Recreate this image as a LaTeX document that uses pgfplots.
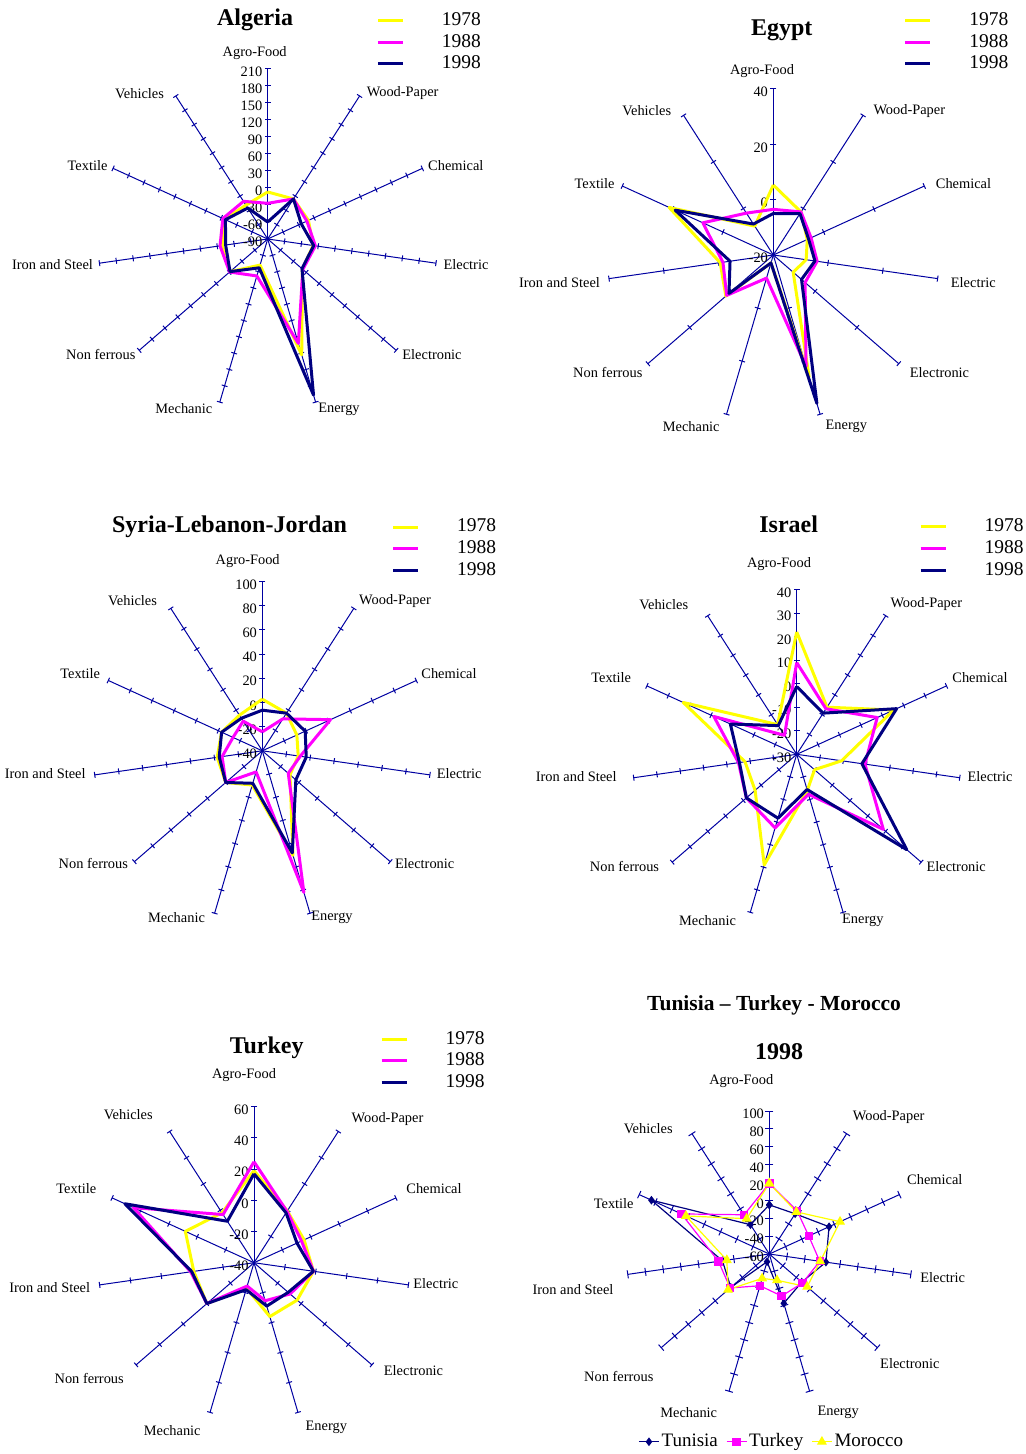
\documentclass[border=0pt]{standalone}
\usepackage{pgfplots}
\pgfplotsset{compat=1.18}
\usepackage{pgfplotstable}
\usepackage{fontspec}
\setmainfont{Liberation Serif}

\definecolor{c78}{rgb}{1,1,0}
\definecolor{c88}{rgb}{1,0,1}
\definecolor{c98}{rgb}{0,0,0.5}
\definecolor{spokeblue}{rgb}{0,0,0.63}

\newcommand\lblfont{\fontsize{7.2}{8.6}\selectfont}
\newcommand\ttlfont{\fontsize{12}{14}\selectfont\bfseries}

% k = spoke index (0 Agro-Food ... 10 Vehicles); row 11 closes the polygon
\pgfplotstableread{
k  a    b    c
0  -7   -27  -60
1  -6   -6   -6
2  -11  -14  -25
3  -9   -5   -8
4  -9   -8   -10
5  123  102  197
6  -42  -22  -37
7  -2   -1   -2
8  -9   -5   -15
9  -6   -3   -8
10 -19  -11  -25
11 -7   -27  -60
}\algeria

\pgfplotstableread{
k  a     b     c
0  5.3   -3.5  -5
1  -1.5  -1.5  -2.2
2  -6.5  -5    -6
3  -8    -4    -4.8
4  -10.5 -4.8  -6.5
5  25.9  22    35.9
6  -17   -11.3 -17
7  2.7   2.3   1.2
8  -0.6  -1.6  -4.2
9  21.4  8     19
10 -7.6  -2    -6.7
11 5.3   -3.5  -5
}\egypt

\pgfplotstableread{
k  a     b     c
0  2.7   -24.3 -6.4
1  -3    -8.6  -3
2  -8.6  22    -1
3  -10   -8.3  -3.3
4  -9.7  -11.6 -3.3
5  50    82    48
6  -10.5 -21.8 -12
7  0     0     0
8  -2.3  -6.4  -4
9  -3    -13.4 -3
10 -5    -10.8 -8
11 2.7   -24.3 -6.4
}\syria

\pgfplotstableread{
k  a     b     c
0  22    9     -1.2
1  -6.2  -7    -9.2
2  15.3  7.6   16.7
3  -10.7 -0.7  -2
4  -20   18.7  31.9
5  -14   -12.3 -14.4
6  19    2.6   -1.7
7  -6.6  -1.7  -1.7
8  -7.8  -5    -5.4
9  23    8.7   1
10 -15   -20.4 -15.5
11 22    9     -1.2
}\israel

\pgfplotstableread{
k  a     b     c
0  19    24.7  17
1  -0.5  -0.9  -2
2  -4.7  -6.5  -9.7
3  -1.5  -1.5  -1.5
4  -3.4  -9.4  -11
5  -4    -14.6 -11
6  -23   -24.4 -22
7  0     0     0
8  -1    1     0.3
9  8.4   45    51
10 -2    -3.3  -8.4
11 19    24.7  17
}\turkey

% a = Tunisia, b = Turkey, c = Morocco (1998)
\pgfplotstableread{
k  a     b     c
0  -5    19    19
1  -6.5  -2.5  -4
2  13.5  -11.5 27
3  4     -3    -2.5
4  -12   -10.7 -4
5  -2.5  -11   -29.4
6  -51   -23   -31.6
7  -3    -2    1
8  -7    -2.5  -12
9  85    48    42.6
10 -21   -7.8  -13
11 -5    19    19
}\ttm

\pgfplotsset{
  radar/.style={hide axis, clip=false, anchor=center,
    xmin=-1.6, xmax=1.6, ymin=-1.6, ymax=1.6, x=#1, y=#1,
    legend cell align=left,
    legend style={draw=none, fill=none, inner sep=0pt, outer sep=0pt,
      anchor=north west, font=\fontsize{9.75}{11}\selectfont, row sep=2.8pt,
      nodes={inner sep=0pt, outer sep=0pt}},
    legend image code/.code={\draw[##1] (0pt,0pt) -- (12.5pt,0pt);
      \path[draw=none] (0pt,0pt) -- (32pt,0pt);},
  },
  /pgfplots/table/val/.style={
    x expr={(\thisrow{#1}-(\rmin))/\rrng*sin(\thisrow{k}*360/11)},
    y expr={(\thisrow{#1}-(\rmin))/\rrng*cos(\thisrow{k}*360/11)}},
  s78/.style={c78, line width=1.5pt, line join=round},
  s88/.style={c88, line width=1.5pt, line join=round},
  s98/.style={c98, line width=1.5pt, line join=round},
}

% spokes, tick marks and the value scale on the Agro-Food spoke
% #1 minimum, #2 step, #3 number of intervals, #4 half tick length
\newcommand\radarframe[4]{%
  \pgfplotsextra{%
    \foreach \k in {0,...,10}{%
      \pgfmathsetmacro\ang{\k*360/11}%
      \pgfmathsetmacro\rdx{sin(\ang)}\pgfmathsetmacro\rdy{cos(\ang)}%
      \draw[spokeblue, line width=0.5pt] (axis cs:0,0) -- (axis cs:\rdx,\rdy);
      \foreach \j in {1,...,#3}{%
        \pgfmathsetmacro\tx{\j/#3*sin(\ang)}\pgfmathsetmacro\ty{\j/#3*cos(\ang)}%
        \draw[spokeblue, line width=0.5pt] (axis cs:\tx,\ty) ++(-\ang:#4) -- ++(180-\ang:2*#4);
      }%
    }%
    \foreach \j in {0,...,#3}{%
      \pgfmathtruncatemacro\tv{#1+\j*#2}%
      \pgfmathsetmacro\ty{\j/#3}%
      \node[anchor=east, font=\lblfont, inner sep=0pt] at ([xshift=-2.5pt,yshift=-1.5pt]axis cs:0,\ty) {\tv};
    }%
  }%
}

\newcommand\lbl[3]{\node[font=\lblfont, inner sep=0pt] at (#1*0.5pt, -#2*0.5pt) {#3};}
\newcommand\spokelabels[1]{%
  \foreach \px/\py/\txt in {#1}{\lbl{\px}{\py}{\txt}}}

\begin{document}
\begin{tikzpicture}
\useasboundingbox (0,0) rectangle (513pt,-727pt);

% ---------------- Algeria
\def\rmin{-90}\def\rrng{300}
\begin{axis}[radar=85pt, at={(133.85pt,-119.5pt)},
  legend style={at={(axis cs:0.639,1.332)}}]
\radarframe{-90}{30}{10}{1.5pt}
\addplot[s78] table[val=a] {\algeria};
\addplot[s88] table[val=b] {\algeria};
\addplot[s98] table[val=c] {\algeria};
\legend{1978,1988,1998}
\end{axis}

% ---------------- Egypt
\def\rmin{-20}\def\rrng{60}
\begin{axis}[radar=83pt, at={(386.65pt,-127.5pt)},
  legend style={at={(axis cs:0.787,1.461)}}]
\radarframe{-20}{20}{3}{1.5pt}
\addplot[s78] table[val=a] {\egypt};
\addplot[s88] table[val=b] {\egypt};
\addplot[s98] table[val=c] {\egypt};
\legend{1978,1988,1998}
\end{axis}

% ---------------- Syria-Lebanon-Jordan
\def\rmin{-40}\def\rrng{140}
\begin{axis}[radar=84.65pt, at={(131.15pt,-375.4pt)},
  legend style={at={(axis cs:0.764,1.369)}}]
\radarframe{-40}{20}{7}{1.5pt}
\addplot[s78] table[val=a] {\syria};
\addplot[s88] table[val=b] {\syria};
\addplot[s98] table[val=c] {\syria};
\legend{1978,1988,1998}
\end{axis}

% ---------------- Israel
\def\rmin{-30}\def\rrng{70}
\begin{axis}[radar=82.35pt, at={(398.35pt,-377.15pt)},
  legend style={at={(axis cs:0.743,1.429)}}]
\radarframe{-30}{10}{7}{1.5pt}
\addplot[s78] table[val=a] {\israel};
\addplot[s88] table[val=b] {\israel};
\addplot[s98] table[val=c] {\israel};
\legend{1978,1988,1998}
\end{axis}

% ---------------- Turkey
\def\rmin{-40}\def\rrng{100}
\begin{axis}[radar=78pt, at={(127pt,-631.35pt)},
  legend style={at={(axis cs:0.808,1.485)}}]
\radarframe{-40}{20}{5}{1.5pt}
\addplot[s78] table[val=a] {\turkey};
\addplot[s88] table[val=b] {\turkey};
\addplot[s98] table[val=c] {\turkey};
\legend{1978,1988,1998}
\end{axis}

% ---------------- Tunisia - Turkey - Morocco, 1998
\def\rmin{-60}\def\rrng{160}
\begin{axis}[radar=71.5pt, at={(384.65pt,-627pt)},
  legend columns=3,
  legend style={at={(axis cs:0.017,-1.313)}, anchor=center,
    font=\fontsize{9.5}{11}\selectfont, nodes={inner xsep=1pt},
    /tikz/every even column/.append style={column sep=3pt}},
  legend image code/.code={\draw[#1] (0pt,0pt) -- (10pt,0pt);
    \draw[#1] plot coordinates {(5pt,0pt)};}]
\radarframe{-60}{20}{8}{2pt}
\addplot[c98, line width=0.6pt, mark=diamond*, mark size=1.7pt] table[val=a] {\ttm};
\addplot[c88, line width=0.6pt, mark=square*, mark size=1.8pt] table[val=b] {\ttm};
\addplot[c78, line width=0.6pt, mark=triangle*, mark size=2.3pt] table[val=c] {\ttm};
\legend{Tunisia,Turkey,Morocco}
\end{axis}

% ---------------- titles
\node[font=\ttlfont] at (255*0.5pt,-20*0.5pt) {Algeria};
\node[font=\ttlfont] at (781.7*0.5pt,-30*0.5pt) {Egypt};
\node[font=\ttlfont] at (229.5*0.5pt,-527*0.5pt) {Syria-Lebanon-Jordan};
\node[font=\ttlfont] at (788.7*0.5pt,-524*0.5pt) {Israel};
\node[font=\ttlfont] at (266.7*0.5pt,-1047.5*0.5pt) {Turkey};
\node[font=\fontsize{10.75}{13}\selectfont\bfseries] at (774*0.5pt,-1005*0.5pt) {Tunisia – Turkey - Morocco};
\node[font=\ttlfont] at (779*0.5pt,-1051.5*0.5pt) {1998};

% ---------------- spoke names
\spokelabels{254.7/53.3/Agro-Food, 402.7/93.3/Wood-Paper, 455.8/165.7/Chemical,
  466/265/Electric, 432/355/Electronic, 339/409/Energy, 183.8/409/Mechanic,
  100.8/355/Non ferrous, 52.5/265/Iron and Steel, 87.5/165.7/Textile, 139.5/93.3/Vehicles}
\spokelabels{762/71/Agro-Food, 909.3/111/Wood-Paper, 963.5/184/Chemical,
  973.3/282.7/Electric, 939.5/372.7/Electronic, 846.3/426.7/Energy, 691.2/426.7/Mechanic,
  607.8/372.7/Non ferrous, 559.5/282.7/Iron and Steel, 594.5/184/Textile, 646.7/111/Vehicles}
\spokelabels{247.7/561/Agro-Food, 395/601/Wood-Paper, 449/674/Chemical,
  459.2/773.3/Electric, 424.7/863.3/Electronic, 332/917.3/Energy, 176.5/917.3/Mechanic,
  93.3/863.3/Non ferrous, 45.2/773.3/Iron and Steel, 80.2/674/Textile, 132.5/601/Vehicles}
\spokelabels{779/564.3/Agro-Food, 926.3/604.3/Wood-Paper, 980/677.3/Chemical,
  990/776.3/Electric, 956.2/866.7/Electronic, 862.8/920.7/Energy, 707.5/920.7/Mechanic,
  624.5/866.7/Non ferrous, 576.2/776.3/Iron and Steel, 611.2/677.3/Textile, 663.7/604.3/Vehicles}
\spokelabels{244/1075/Agro-Food, 387.5/1119/Wood-Paper, 434/1188.3/Chemical,
  435.8/1283.3/Electric, 413.5/1371/Electronic, 326.3/1427.3/Energy, 172.2/1431/Mechanic,
  89.2/1378.3/Non ferrous, 49.7/1287.3/Iron and Steel, 76.3/1188.3/Textile, 128.3/1115/Vehicles}
\spokelabels{741.3/1081/Agro-Food, 888.7/1117.3/Wood-Paper, 934.8/1180/Chemical,
  942.7/1277.7/Electric, 909.8/1363.3/Electronic, 838.2/1412.3/Energy, 688.7/1412.3/Mechanic,
  618.8/1376/Non ferrous, 573/1290/Iron and Steel, 613.7/1204/Textile, 648.3/1129/Vehicles}
\end{tikzpicture}
\end{document}
